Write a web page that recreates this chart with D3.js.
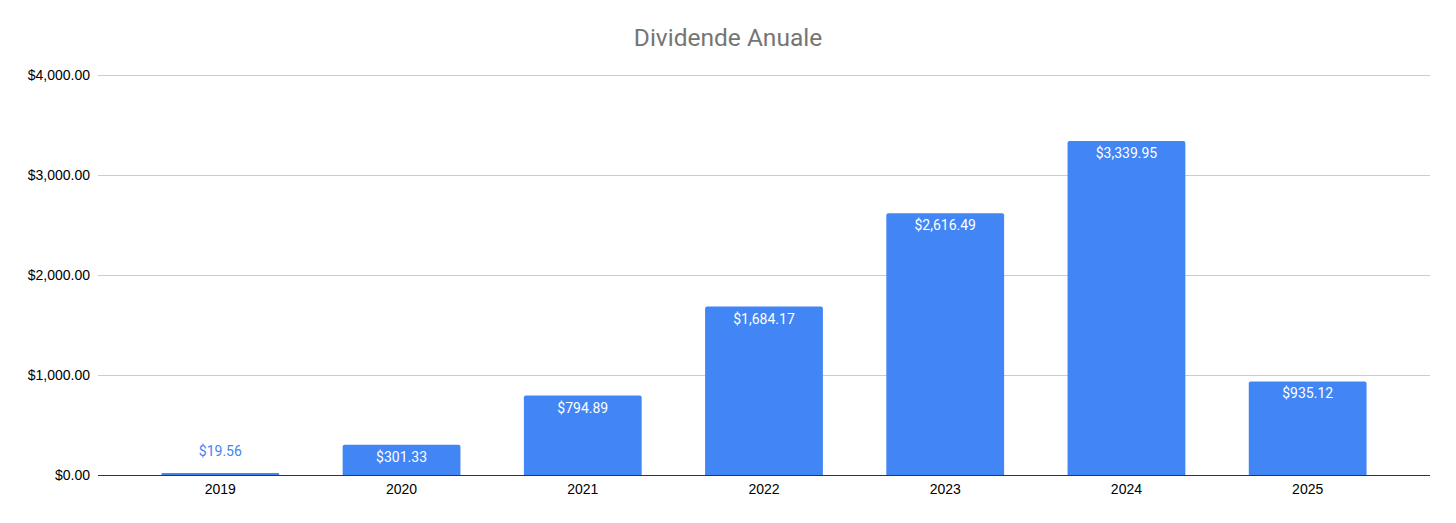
<!DOCTYPE html>
<html>
<head>
<meta charset="utf-8">
<script src="https://cdn.jsdelivr.net/npm/d3@7"></script>
<style>
  body { margin: 0; background: #fff; }
</style>
</head>
<body>
<div id="chart"></div>
<script>
const years = ["2019", "2020", "2021", "2022", "2023", "2024", "2025"];
const dividends = [19.56, 301.33, 794.89, 1684.17, 2616.49, 3339.95, 935.12];
const yTicks = [0, 1000, 2000, 3000, 4000];

const width = 1456, height = 523;
const margin = { top: 75, right: 26, bottom: 48, left: 98 };

const svg = d3.select("#chart")
  .append("svg")
  .attr("width", width)
  .attr("height", height);

const data = years.map((y, i) => ({ year: y, value: dividends[i] }));

const xScale = d3.scaleBand()
  .domain(years)
  .range([margin.left, width - margin.right])
  .paddingInner(0.35)
  .paddingOuter(0.35);

const yScale = d3.scaleLinear()
  .domain([0, 4000])
  .range([height - margin.bottom, margin.top]);

const money = d3.format("$,.2f");

// title
svg.append("text")
  .attr("x", width / 2)
  .attr("y", 46)
  .attr("text-anchor", "middle")
  .style("font-family", "Roboto, sans-serif")
  .style("font-size", "24.5px")
  .attr("fill", "#757575")
  .text("Dividende Anuale");

// gridlines + y labels
const yAxis = svg.append("g")
  .attr("transform", `translate(${margin.left},0)`)
  .call(d3.axisLeft(yScale)
    .tickValues(yTicks)
    .tickSize(-(width - margin.left - margin.right))
    .tickPadding(8)
    .tickFormat(money));
yAxis.select(".domain").remove();
yAxis.selectAll(".tick line").attr("stroke", "#cccccc");
yAxis.selectAll(".tick text")
  .attr("fill", "#000")
  .style("font-family", "'Liberation Sans', Arial, sans-serif")
  .style("font-size", "14px");

// bars with slightly rounded tops
svg.selectAll(".bar")
  .data(data)
  .join("path")
  .attr("class", "bar")
  .attr("fill", "#4285f4")
  .attr("d", d => {
    const x0 = xScale(d.year), w = xScale.bandwidth();
    const y0 = yScale(d.value), y1 = yScale(0);
    const r = Math.min(2, (y1 - y0) / 2);
    return `M${x0},${y1}V${y0 + r}Q${x0},${y0} ${x0 + r},${y0}H${x0 + w - r}Q${x0 + w},${y0} ${x0 + w},${y0 + r}V${y1}Z`;
  });

// baseline + x labels
const xAxis = svg.append("g")
  .attr("transform", `translate(0,${yScale(0)})`)
  .call(d3.axisBottom(xScale).tickSize(0).tickPadding(9));
xAxis.select(".domain").attr("stroke", "#333").attr("d", `M${margin.left},0.5H${width - margin.right}`);
xAxis.selectAll(".tick text")
  .attr("fill", "#000")
  .style("font-family", "'Liberation Sans', Arial, sans-serif")
  .style("font-size", "14px");

// value labels
svg.selectAll(".val")
  .data(data)
  .join("text")
  .attr("class", "val")
  .attr("x", d => xScale(d.year) + xScale.bandwidth() / 2)
  .attr("y", d => {
    const h = yScale(0) - yScale(d.value);
    return h > 30 ? yScale(d.value) + 17 : yScale(d.value) - 17;
  })
  .attr("text-anchor", "middle")
  .attr("fill", d => (yScale(0) - yScale(d.value) > 30 ? "#ffffff" : "#4285f4"))
  .style("font-family", "Roboto, sans-serif")
  .style("font-size", "14px")
  .text(d => money(d.value));
</script>
</body>
</html>
